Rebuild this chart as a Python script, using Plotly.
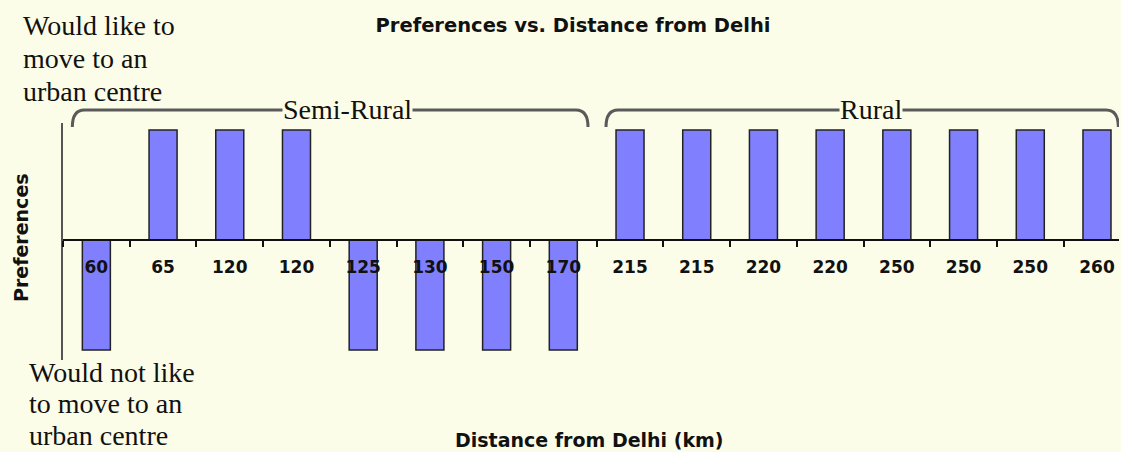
import plotly.graph_objects as go

# ---- data ----
distances = ["60", "65", "120", "120", "125", "130", "150", "170",
             "215", "215", "220", "220", "250", "250", "250", "260"]
preferences = [-1, 1, 1, 1, -1, -1, -1, -1, 1, 1, 1, 1, 1, 1, 1, 1]
groups = [("Semi-Rural", -0.36, 7.37, 3.77), ("Rural", 7.64, 15.32, 11.61)]

title_text = "Preferences vs. Distance from Delhi"
x_title = "Distance from Delhi (km)"
y_title = "Preferences"
top_note = ["Would like to", "move to an", "urban centre"]
bottom_note = ["Would not like", "to move to an", "urban centre"]

# ---- layout geometry ----
W, H = 1121, 452
ML, MR, MT, MB = 63, 2, 123, 92
PW, PH = W - ML - MR, H - MT - MB
BG = "#FBFDE8"
YMIN, YMAX = -1.09, 1.064


def px(xp):
    return (xp - ML) / PW


def py(yp):
    return (H - MB - yp) / PH


xs = list(range(len(distances)))

fig = go.Figure()
fig.add_trace(go.Bar(
    x=xs, y=preferences, width=0.42,
    marker=dict(color="#8080FF", line=dict(color="#222222", width=1.5)),
    hoverinfo="skip",
))

serif = dict(family="Liberation Serif, Times New Roman, serif", size=28, color="#111111")
bold = dict(family="DejaVu Sans, Verdana, sans-serif", size=19, color="#111111")

annotations = []
for i, line in enumerate(top_note):
    base = 35 + i * 32.5
    annotations.append(dict(text=line, xref="paper", yref="paper",
                            x=px(21), y=py(base - 9), xanchor="left", yanchor="middle",
                            showarrow=False, font=serif))
for i, line in enumerate(bottom_note):
    base = 381 + i * 31.5
    annotations.append(dict(text=line, xref="paper", yref="paper",
                            x=px(27), y=py(base - 9), xanchor="left", yanchor="middle",
                            showarrow=False, font=serif))

shapes = []
for name, x0, x1, xc in groups:
    ytop, ybot = py(110), py(127)
    r = 0.18
    path = (f"M {x0},{ybot} Q {x0},{ytop} {x0 + r},{ytop} "
            f"L {x1 - r},{ytop} Q {x1},{ytop} {x1},{ybot}")
    shapes.append(dict(type="path", path=path, xref="x", yref="paper",
                       line=dict(color="#5a5a5a", width=3)))
    annotations.append(dict(text=name, xref="x", yref="paper", x=xc, y=py(109),
                            xanchor="center", yanchor="middle", showarrow=False,
                            bgcolor=BG, borderpad=0, font=serif))

annotations.append(dict(text=f"<b>{x_title}</b>", xref="paper", yref="paper",
                        x=px(589), y=py(440), xanchor="center", yanchor="middle",
                        showarrow=False, font=bold))
annotations.append(dict(text=f"<b>{y_title}</b>", xref="paper", yref="paper",
                        x=px(21), y=py(238), xanchor="center", yanchor="middle",
                        textangle=-90, showarrow=False, font=bold))

fig.update_layout(
    width=W, height=H,
    margin=dict(l=ML, r=MR, t=MT, b=MB),
    paper_bgcolor=BG, plot_bgcolor=BG,
    showlegend=False,
    bargap=0.58,
    title=dict(text=f"<b>{title_text}</b>", x=573 / W, xref="container",
               y=1 - 25 / H, yref="container", xanchor="center", yanchor="middle",
               font=dict(family="DejaVu Sans, Verdana, sans-serif", size=19.5, color="#111111")),
    annotations=annotations,
    shapes=shapes,
    xaxis=dict(
        range=[-0.5, 15.33],
        tickmode="array", tickvals=xs, ticktext=distances,
        ticks="", showgrid=False, zeroline=False,
        showline=True, linecolor="#111111", linewidth=2,
        anchor="free", position=(0 - YMIN) / (YMAX - YMIN),
        tickfont=dict(family="DejaVu Sans, Verdana, sans-serif", size=17,
                      color="#111111", weight="bold"),
        ticklabelstandoff=12,
        minor=dict(tickmode="linear", tick0=0.5, dtick=1, ticks="outside",
                   ticklen=6, tickwidth=2, tickcolor="#111111", showgrid=False),
        fixedrange=True,
    ),
    yaxis=dict(
        range=[YMIN, YMAX], showticklabels=False, ticks="", showgrid=False,
        zeroline=False, showline=True, linecolor="#555555", linewidth=2,
        fixedrange=True,
    ),
)

fig.write_html("out.html", config={"displayModeBar": False},
               post_script="document.body.style.margin='0';")
